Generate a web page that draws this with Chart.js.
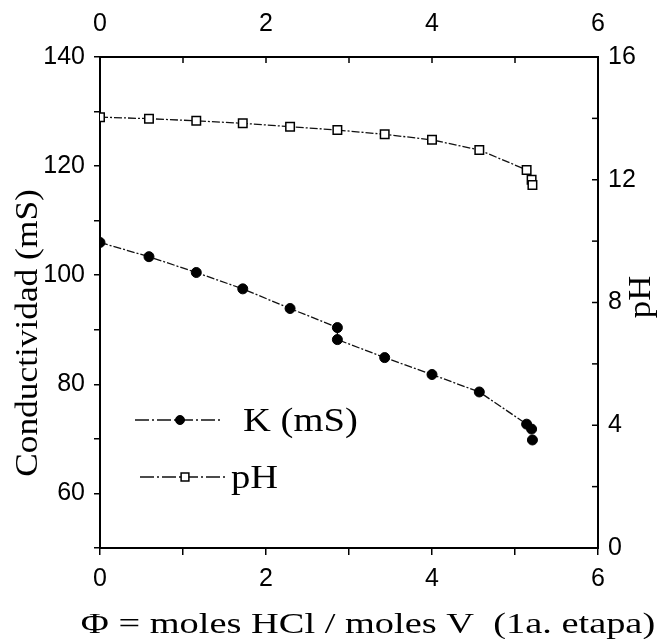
<!DOCTYPE html>
<html>
<head>
<meta charset="utf-8">
<script src="https://cdn.jsdelivr.net/npm/chart.js@4/dist/chart.umd.min.js"></script>
<style>
  body { margin: 0; background: #fff; }
  #wrap { width: 662px; height: 639px; }
</style>
</head>
<body>
<div id="wrap"><canvas id="cond" width="662" height="639"></canvas></div>
<script>
// datos
const kPhi = [0, 0.59, 1.16, 1.72, 2.29, 2.86, 2.86, 3.43, 4.0, 4.57, 5.14, 5.2, 5.21]
const kVal = [106, 103.4, 100.5, 97.5, 93.9, 90.4, 88.2, 84.9, 81.8, 78.6, 72.7, 71.8, 69.8]
const phPhi = [0, 0.59, 1.16, 1.72, 2.29, 2.86, 3.43, 4.0, 4.57, 5.14, 5.2, 5.21]
const phVal = [14.04, 13.99, 13.92, 13.84, 13.73, 13.62, 13.48, 13.30, 12.97, 12.32, 12.0, 11.83]

const xTitle = 'Φ = moles HCl / moles V  (1a. etapa)'
const yTitle = 'Conductividad (mS)'
const y2Title = 'pH'

const sans = 'Liberation Sans'
const serif = 'Liberation Serif'
const tickFont = { family: sans, size: 25 }

const toPts = (xs, ys) => xs.map((x, i) => ({ x: x, y: ys[i] }))

// ticks hacia adentro (eje superior y derecho), titulos y leyenda
const extras = {
    id: 'extras',
    afterDraw(chart) {
        const ctx = chart.ctx
        const area = chart.chartArea
        ctx.save()
        ctx.strokeStyle = '#000'
        ctx.lineWidth = 1.5
        const top = chart.scales.x2
        top.ticks.forEach(t => {
            const px = top.getPixelForValue(t.value)
            ctx.beginPath(); ctx.moveTo(px, area.top); ctx.lineTo(px, area.top + 6); ctx.stroke()
        })
        const right = chart.scales.y2
        right.ticks.forEach(t => {
            const py = right.getPixelForValue(t.value)
            ctx.beginPath(); ctx.moveTo(area.right, py); ctx.lineTo(area.right - 6, py); ctx.stroke()
        })

        ctx.fillStyle = '#000'
        ctx.textAlign = 'center'
        ctx.textBaseline = 'alphabetic'
        // titulo x
        ctx.font = '30px "' + serif + '"'
        ctx.save(); ctx.translate(368, 633); ctx.scale(1.28, 1); ctx.fillText(xTitle, 0, 0); ctx.restore()
        // titulo y izquierdo
        ctx.font = '31px "' + serif + '"'
        ctx.save(); ctx.translate(37, 333); ctx.rotate(-Math.PI / 2); ctx.scale(1.14, 1); ctx.fillText(yTitle, 0, 0); ctx.restore()
        // titulo y derecho
        ctx.save(); ctx.translate(650, 297); ctx.rotate(-Math.PI / 2); ctx.scale(1.12, 1); ctx.fillText(y2Title, 0, 0); ctx.restore()

        // leyenda
        const rows = [[135, 420, 243], [140, 477, 231]]
        chart.data.datasets.forEach((ds, i) => {
            const [x0, y0, tx] = rows[i]
            ctx.save()
            ctx.strokeStyle = ds.borderColor
            ctx.lineWidth = ds.borderWidth
            ctx.setLineDash([14, 3, 2, 3])
            ctx.beginPath(); ctx.moveTo(x0, y0); ctx.lineTo(x0 + 85, y0); ctx.stroke()
            ctx.setLineDash([])
            ctx.fillStyle = ds.pointBackgroundColor
            ctx.strokeStyle = ds.pointBorderColor
            ctx.lineWidth = ds.pointBorderWidth
            Chart.helpers.drawPoint(ctx, { pointStyle: ds.pointStyle, radius: ds.pointRadius - 0.5, rotation: 0, borderWidth: ds.pointBorderWidth }, x0 + 45, y0)
            ctx.restore()
            ctx.fillStyle = '#000'
            ctx.textAlign = 'left'
            ctx.textBaseline = 'middle'
            ctx.font = '33px "' + serif + '"'
            ctx.save(); ctx.translate(tx, y0 + 2); ctx.scale(1.17, 1); ctx.fillText(ds.label, 0, 0); ctx.restore()
        })
        ctx.restore()
    }
}

const border = { display: true, color: '#000', width: 2 }

new Chart(document.getElementById('cond'), {
    type: 'line',
    data: {
        datasets: [{
            label: 'K (mS)',
            data: toPts(kPhi, kVal),
            xAxisID: 'x',
            yAxisID: 'y',
            borderColor: '#111',
            borderWidth: 1.3,
            borderDash: [8, 2, 2, 2],
            pointStyle: 'circle',
            pointRadius: 5,
            pointBackgroundColor: '#000',
            pointBorderColor: '#000',
            pointBorderWidth: 1,
            tension: 0
        }, {
            label: 'pH',
            data: toPts(phPhi, phVal),
            xAxisID: 'x',
            yAxisID: 'y2',
            borderColor: '#111',
            borderWidth: 1.3,
            borderDash: [8, 2, 2, 2],
            pointStyle: 'rect',
            pointRadius: 6,
            pointBackgroundColor: '#fff',
            pointBorderColor: '#000',
            pointBorderWidth: 1.5,
            tension: 0
        }]
    },
    options: {
        responsive: false,
        animation: false,
        layout: { padding: 0 },
        plugins: { legend: { display: false }, tooltip: { enabled: false } },
        scales: {
            x: {
                type: 'linear', position: 'bottom', min: 0, max: 6,
                border: border,
                grid: { drawOnChartArea: false, tickLength: 7, color: '#000', lineWidth: 1.5 },
                ticks: { stepSize: 1, autoSkip: false, maxRotation: 0, padding: 9, color: '#000', font: tickFont,
                    callback: v => (v % 2 === 0 ? v : '') },
                afterFit: s => { s.height = 91 }
            },
            x2: {
                type: 'linear', position: 'top', min: 0, max: 6,
                border: border,
                grid: { drawOnChartArea: false, drawTicks: false },
                ticks: { stepSize: 1, autoSkip: false, maxRotation: 0, padding: 18, color: '#000', font: tickFont,
                    callback: v => (v % 2 === 0 ? v : '') },
                afterFit: s => { s.height = 57 }
            },
            y: {
                type: 'linear', position: 'left', min: 50, max: 140,
                border: border,
                grid: { drawOnChartArea: false, tickLength: 6, color: '#000', lineWidth: 1.5 },
                ticks: { stepSize: 10, autoSkip: false, padding: 9, color: '#000', font: tickFont,
                    callback: v => (v % 20 === 0 ? v : '') },
                afterFit: s => { s.width = 100 }
            },
            y2: {
                type: 'linear', position: 'right', min: 0, max: 16,
                border: border,
                grid: { drawOnChartArea: false, drawTicks: false },
                ticks: { stepSize: 2, autoSkip: false, padding: 10, color: '#000', font: tickFont,
                    callback: v => (v % 4 === 0 ? v : '') },
                afterFit: s => { s.width = 64 }
            }
        }
    },
    plugins: [extras]
})
</script>
</body>
</html>
